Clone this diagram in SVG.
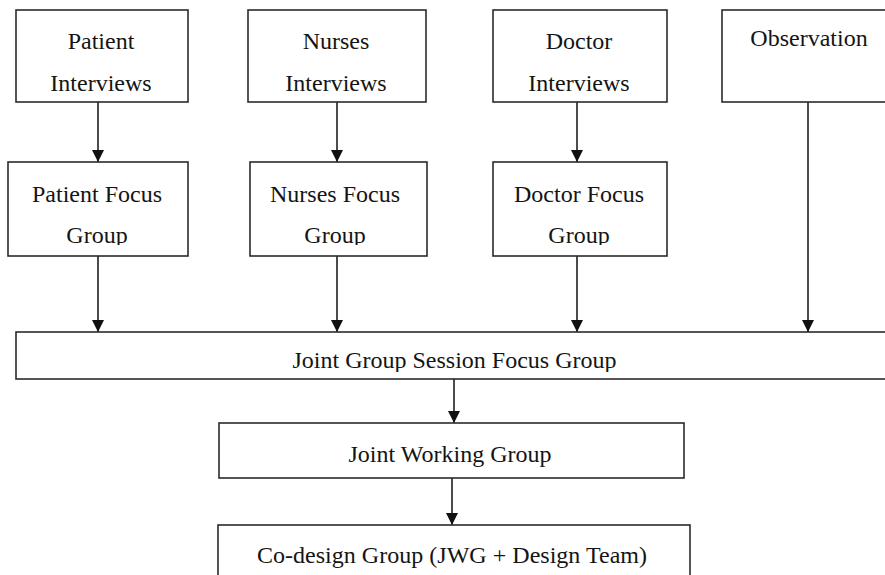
<svg xmlns="http://www.w3.org/2000/svg" width="885" height="575" viewBox="0 0 885 575">
<style>
.box{fill:#fff;stroke:#2b2b2b;stroke-width:1.6}
.t{font-family:"Liberation Serif","Times New Roman",serif;font-size:24px;fill:#141414;text-anchor:middle}
.c{stroke:#111;stroke-width:1.5;fill:none;marker-end:url(#ah)}
</style>
<defs>
<marker id="ah" markerUnits="userSpaceOnUse" markerWidth="13" markerHeight="13" refX="12" refY="6.5" orient="auto" viewBox="0 0 13 13">
<path d="M0,0.5 L12,6.5 L0,12.5 z" fill="#111"/>
</marker>
<clipPath id="c1"><rect x="8" y="162" width="180" height="83"/></clipPath>
<clipPath id="c2"><rect x="250" y="162" width="177" height="83"/></clipPath>
<clipPath id="c3"><rect x="493" y="162" width="174" height="83"/></clipPath>
<clipPath id="c4"><rect x="16" y="332" width="877" height="40"/></clipPath>
</defs>
<rect width="885" height="575" fill="#fff"/>
<g id="connectors">
<line class="c" x1="98" y1="102" x2="98" y2="162"/>
<line class="c" x1="337" y1="102" x2="337" y2="162"/>
<line class="c" x1="577" y1="102" x2="577" y2="162"/>
<line class="c" x1="98" y1="256" x2="98" y2="332"/>
<line class="c" x1="337" y1="256" x2="337" y2="332"/>
<line class="c" x1="577" y1="256" x2="577" y2="332"/>
<line class="c" x1="808" y1="102" x2="808" y2="332"/>
<line class="c" x1="454" y1="379" x2="454" y2="423"/>
<line class="c" x1="452" y1="478" x2="452" y2="525"/>
</g>
<g id="patient-interviews">
<rect class="box" x="16" y="10" width="172" height="92"/>
<text class="t" x="101" y="49">Patient</text>
<text class="t" x="101" y="91">Interviews</text>
</g>
<g id="nurses-interviews">
<rect class="box" x="248" y="10" width="178" height="92"/>
<text class="t" x="336" y="49">Nurses</text>
<text class="t" x="336" y="91">Interviews</text>
</g>
<g id="doctor-interviews">
<rect class="box" x="493" y="10" width="174" height="92"/>
<text class="t" x="579" y="49">Doctor</text>
<text class="t" x="579" y="91">Interviews</text>
</g>
<g id="observation">
<rect class="box" x="722" y="10" width="174" height="92"/>
<text class="t" x="809" y="46">Observation</text>
</g>
<g id="patient-focus">
<rect class="box" x="8" y="162" width="180" height="94"/>
<text class="t" x="97" y="202">Patient Focus</text>
<text class="t" x="97" y="243" clip-path="url(#c1)">Group</text>
</g>
<g id="nurses-focus">
<rect class="box" x="250" y="162" width="177" height="94"/>
<text class="t" x="335" y="202">Nurses Focus</text>
<text class="t" x="335" y="243" clip-path="url(#c2)">Group</text>
</g>
<g id="doctor-focus">
<rect class="box" x="493" y="162" width="174" height="94"/>
<text class="t" x="579" y="202">Doctor Focus</text>
<text class="t" x="579" y="243" clip-path="url(#c3)">Group</text>
</g>
<g id="joint-session">
<rect class="box" x="16" y="332" width="877" height="47"/>
<text class="t" x="454.5" y="368" clip-path="url(#c4)">Joint Group Session Focus Group</text>
</g>
<g id="joint-working">
<rect class="box" x="219" y="423" width="465" height="55"/>
<text class="t" x="450" y="462">Joint Working Group</text>
</g>
<g id="co-design">
<rect class="box" x="218" y="525" width="472" height="60"/>
<text class="t" x="452" y="563" textLength="390" lengthAdjust="spacing">Co-design Group (JWG + Design Team)</text>
</g>
</svg>
